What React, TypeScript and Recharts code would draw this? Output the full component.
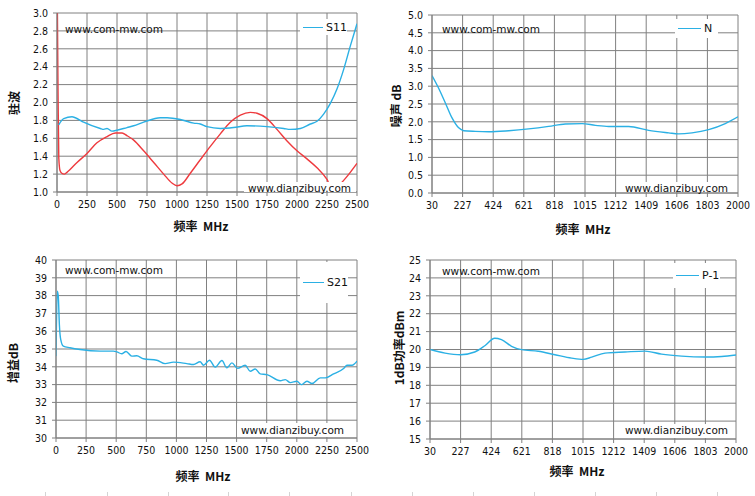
import React from 'react';
import { LineChart, Line, XAxis, YAxis, CartesianGrid } from 'recharts';

// ---- S11 (驻波) ----
const s11BlueFreq = [14, 56, 125, 153, 222, 361, 389, 417, 458, 500, 583, 639, 722, 861, 917, 1028, 1139, 1194, 1250, 1361, 1472, 1583, 1750, 1889, 1944, 2028, 2111, 2167, 2222, 2278, 2333, 2389, 2444, 2500];
const s11BlueVals = [1.75, 1.82, 1.84, 1.83, 1.78, 1.71, 1.70, 1.71, 1.68, 1.69, 1.72, 1.74, 1.78, 1.83, 1.83, 1.81, 1.77, 1.76, 1.73, 1.71, 1.72, 1.74, 1.73, 1.71, 1.70, 1.71, 1.76, 1.79, 1.87, 1.99, 2.15, 2.37, 2.63, 2.88];
const s11RedFreq = [0, 8, 15, 25, 40, 60, 83, 167, 250, 333, 417, 486, 542, 583, 639, 722, 806, 889, 958, 1000, 1042, 1111, 1194, 1278, 1361, 1444, 1528, 1611, 1667, 1750, 1833, 1917, 2000, 2083, 2167, 2250, 2290, 2340, 2389, 2444, 2500];
const s11RedVals = [3.6, 2.2, 1.38, 1.24, 1.21, 1.2, 1.22, 1.33, 1.43, 1.55, 1.62, 1.66, 1.66, 1.63, 1.58, 1.46, 1.33, 1.2, 1.1, 1.07, 1.09, 1.21, 1.36, 1.51, 1.65, 1.78, 1.86, 1.89, 1.88, 1.82, 1.7, 1.57, 1.46, 1.37, 1.27, 1.14, 1.04, 1.06, 1.13, 1.22, 1.32];

// ---- N (噪声) ----
const nFreq = [30, 72, 116, 159, 202, 234, 309, 395, 524, 652, 781, 888, 996, 1082, 1167, 1296, 1425, 1554, 1618, 1704, 1811, 1918, 2000];
const nVals = [3.3, 2.95, 2.53, 2.11, 1.83, 1.75, 1.73, 1.72, 1.75, 1.8, 1.87, 1.94, 1.95, 1.9, 1.87, 1.87, 1.76, 1.69, 1.66, 1.69, 1.78, 1.95, 2.14];

// ---- S21 (增益) ----
const s21Freq = [0, 11, 19, 28, 39, 61, 116, 200, 366, 477, 505, 546, 582, 629, 671, 726, 837, 906, 976, 1087, 1142, 1197, 1225, 1275, 1322, 1378, 1419, 1461, 1508, 1571, 1613, 1655, 1696, 1752, 1863, 1904, 1946, 2001, 2037, 2084, 2126, 2195, 2237, 2306, 2389, 2417, 2459, 2500];
const s21Vals = [34.6, 38.25, 37.97, 36.38, 35.54, 35.16, 35.07, 34.97, 34.88, 34.88, 34.84, 34.73, 34.86, 34.6, 34.62, 34.45, 34.37, 34.18, 34.26, 34.18, 34.13, 34.28, 34.09, 34.37, 33.98, 34.35, 33.94, 34.22, 33.91, 34.09, 33.75, 33.88, 33.6, 33.56, 33.22, 33.28, 33.11, 33.19, 33.0, 33.19, 33.06, 33.38, 33.38, 33.6, 33.9, 34.09, 34.09, 34.32];

// ---- P-1 (1dB功率) ----
const p1Freq = [30, 127, 227, 318, 383, 447, 490, 555, 619, 727, 834, 942, 1017, 1071, 1157, 1285, 1414, 1521, 1650, 1801, 1908, 2000];
const p1Vals = [20.0, 19.8, 19.71, 19.86, 20.21, 20.63, 20.55, 20.18, 19.99, 19.9, 19.71, 19.52, 19.45, 19.57, 19.8, 19.86, 19.91, 19.74, 19.63, 19.58, 19.61, 19.69];

const ticks2500 = [0, 250, 500, 750, 1000, 1250, 1500, 1750, 2000, 2250, 2500];
const ticks2000 = [30, 227, 424, 621, 818, 1015, 1212, 1409, 1606, 1803, 2000];
const ticksS11 = [1.0, 1.2, 1.4, 1.6, 1.8, 2.0, 2.2, 2.4, 2.6, 2.8, 3.0];
const ticksN = [0, 0.5, 1, 1.5, 2, 2.5, 3, 3.5, 4, 4.5, 5];
const ticksS21 = [30, 31, 32, 33, 34, 35, 36, 37, 38, 39, 40];
const ticksP1 = [15, 16, 17, 18, 19, 20, 21, 22, 23, 24, 25];

const BLUE = '#2bb0e4';
const RED = '#ee3a3e';
const GRID = '#808080';
const FONT = '"DejaVu Sans", Verdana, sans-serif';
const TICKFONT = '"DejaVu Sans Condensed", "Liberation Sans", sans-serif';
const CJK = '"Noto Sans CJK SC", "DejaVu Sans", sans-serif';

// faint spreadsheet cell borders peeking in at the very bottom of the screenshot
const cellEdges = [45, 107, 168, 228, 289, 351, 412, 473, 534, 595, 656, 717];

const zip = (xs: number[], ys: number[]) => xs.map((f, i) => ({ f, v: ys[i] }));

function Txt({ x, y, children, style }: any) {
  return (
    <div style={{ position: 'absolute', left: x, top: y, transform: 'translate(-50%, -50%)', whiteSpace: 'nowrap', ...style }}>
      {children}
    </div>
  );
}

function LegendBox({ name, box }: any) {
  return (
    <div style={{ position: 'absolute', ...box, background: '#fff', display: 'flex', alignItems: 'center', fontFamily: FONT, fontSize: 11, color: '#111' }}>
      <span style={{ display: 'inline-block', width: 23, height: 0, borderTop: `1.5px solid ${BLUE}`, marginLeft: 3, marginRight: 3 }} />
      {name}
    </div>
  );
}

function Panel({ left, top, width, margin, yWidth, xTicks, yTicks, yFmt, series, legend, legendBox, yTitle, yTitlePos, xTitlePos, wm1, wm2, wm2Box }: any) {
  const tick = { fontSize: 10.5, fill: '#111', fontFamily: TICKFONT };
  return (
    <div style={{ position: 'absolute', left, top, width, height: 248 }}>
      <LineChart width={width} height={248} margin={{ ...margin, bottom: margin.bottom - 30 }}>
        <CartesianGrid stroke={GRID} strokeWidth={1} />
        <XAxis
          type="number"
          dataKey="f"
          domain={[xTicks[0], xTicks[xTicks.length - 1]]}
          ticks={xTicks}
          interval={0}
          allowDataOverflow
          height={30}
          stroke={GRID}
          tickSize={4}
          tickMargin={5}
          tick={tick}
        />
        <YAxis
          type="number"
          domain={[yTicks[0], yTicks[yTicks.length - 1]]}
          ticks={yTicks}
          interval={0}
          allowDataOverflow
          width={yWidth}
          stroke={GRID}
          tickSize={4}
          tickMargin={5}
          tickFormatter={yFmt}
          tick={tick}
        />
        {series.map((s: any, i: number) => (
          <Line
            key={i}
            data={s.data}
            dataKey="v"
            type="monotone"
            stroke={s.color}
            strokeWidth={1.4}
            dot={false}
            isAnimationActive={false}
          />
        ))}
      </LineChart>
      <Txt x={wm1[0]} y={wm1[1]} style={{ fontFamily: FONT, fontSize: 10.5, color: '#111', transform: 'translate(0, -50%)' }}>www.com-mw.com</Txt>
      <div style={{ position: 'absolute', ...wm2Box, background: '#fff' }} />
      <Txt x={wm2[0]} y={wm2[1]} style={{ fontFamily: FONT, fontSize: 10.5, color: '#111', transform: 'translate(0, -50%)' }}>www.dianzibuy.com</Txt>
      <LegendBox name={legend} box={legendBox} />
      <Txt x={yTitlePos[0]} y={yTitlePos[1]} style={{ fontFamily: CJK, fontSize: 12, fontWeight: 'bold', color: '#111', transform: 'translate(-50%, -50%) rotate(-90deg)' }}>{yTitle}</Txt>
      <Txt x={xTitlePos[0]} y={xTitlePos[1]} style={{ fontFamily: CJK, fontSize: 12, fontWeight: 'bold', color: '#111' }}>频率&nbsp;&nbsp;MHz</Txt>
    </div>
  );
}

export default function App() {
  return (
    <div style={{ position: 'absolute', left: 0, top: 0, width: 755, height: 496, background: '#fff', overflow: 'hidden' }}>
      <Panel
        left={0} top={0} width={377}
        margin={{ top: 13, right: 20, bottom: 56, left: 0 }}
        yWidth={57}
        xTicks={ticks2500} yTicks={ticksS11} yFmt={(v: number) => v.toFixed(1)}
        series={[{ data: zip(s11RedFreq, s11RedVals), color: RED }, { data: zip(s11BlueFreq, s11BlueVals), color: BLUE }]}
        legend="S11" legendBox={{ left: 300, top: 19, width: 47, height: 16 }}
        yTitle="驻波" yTitlePos={[13, 103]} xTitlePos={[201, 225]}
        wm1={[65, 29]} wm2={[248, 188]} wm2Box={{ left: 244, top: 182, width: 112, height: 10 }}
      />
      <Panel
        left={377} top={0} width={378}
        margin={{ top: 15, right: 17, bottom: 55, left: 0 }}
        yWidth={55}
        xTicks={ticks2000} yTicks={ticksN} yFmt={(v: number) => v.toFixed(1)}
        series={[{ data: zip(nFreq, nVals), color: BLUE }]}
        legend="N" legendBox={{ left: 298, top: 19, width: 43, height: 19 }}
        yTitle="噪声 dB" yTitlePos={[18, 106]} xTitlePos={[206, 228]}
        wm1={[65, 29]} wm2={[248, 188]} wm2Box={{ left: 243, top: 182, width: 112, height: 10 }}
      />
      <Panel
        left={0} top={248} width={377}
        margin={{ top: 12, right: 20, bottom: 58, left: 0 }}
        yWidth={56}
        xTicks={ticks2500} yTicks={ticksS21} yFmt={(v: number) => String(v)}
        series={[{ data: zip(s21Freq, s21Vals), color: BLUE }]}
        legend="S21" legendBox={{ left: 300, top: 14, width: 48, height: 41 }}
        yTitle="增益dB" yTitlePos={[12, 115]} xTitlePos={[203, 227]}
        wm1={[65, 22]} wm2={[241, 182]} wm2Box={{ left: 237, top: 175, width: 119, height: 14 }}
      />
      <Panel
        left={377} top={248} width={378}
        margin={{ top: 12, right: 19, bottom: 57, left: 0 }}
        yWidth={53}
        xTicks={ticks2000} yTicks={ticksP1} yFmt={(v: number) => String(v)}
        series={[{ data: zip(p1Freq, p1Vals), color: BLUE }]}
        legend="P-1" legendBox={{ left: 296, top: 15, width: 47, height: 25 }}
        yTitle="1dB功率dBm" yTitlePos={[21, 100]} xTitlePos={[200, 222]}
        wm1={[65, 23]} wm2={[248, 182]} wm2Box={{ left: 243, top: 176, width: 114, height: 14 }}
      />
      {cellEdges.map((x) => (
        <div key={x} style={{ position: 'absolute', left: x, top: 492, width: 1, height: 4, background: '#d4d4d4' }} />
      ))}
    </div>
  );
}
